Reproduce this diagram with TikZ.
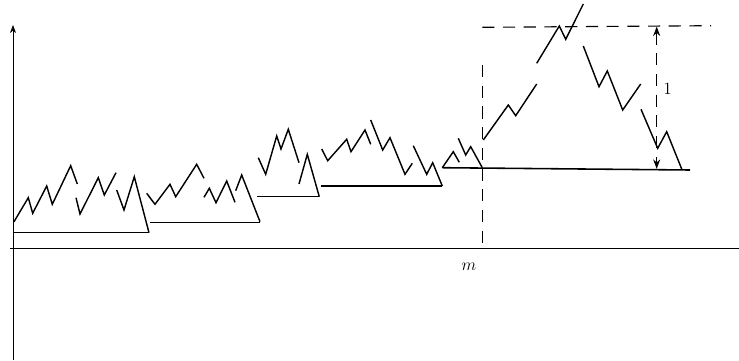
\documentclass[tikz,border=0pt]{standalone}
\usetikzlibrary{arrows.meta}
\begin{document}
\begin{tikzpicture}[
    x=0.7pt, y=-0.7pt,
    >=Stealth,
    walk/.style={line width=1pt},
    floor/.style={line width=1.1pt},
    guide/.style={line width=0.8pt, dash pattern=on 8.5pt off 6pt},
    axis/.style={line width=0.6pt},
    tag/.style={font=\large}
]
    \useasboundingbox (0,0) rectangle (739,360);

    % --- AXES ---
    \draw[axis, ->] (13,360) -- (13,25);
    \draw[axis] (10,248) -- (739,248);
    \node[tag] (mlabel) at (469,267) {$m$};

    % --- FIRST EXCURSION ---
    \draw[floor] (14,232.7) -- (149,232.7);
    \draw[walk] (14,221.7) -- (28.3,197.7) -- (32.7,213.3) -- (46.7,186) -- (52.3,204.3) -- (70.7,165.7) -- (77.3,184);
    \draw[walk] (76,197.7) -- (80,214) -- (98.3,177.7) -- (104.3,195) -- (116,172.7);
    \draw[walk] (116.7,190) -- (124,210) -- (134.3,176.7) -- (149,232.7);

    % --- SECOND EXCURSION ---
    \draw[floor] (150,222.3) -- (260,222.3);
    \draw[walk] (146.7,193.3) -- (155,204.3) -- (170,184.3) -- (175.7,196.7) -- (196.7,164.3) -- (204,178.3);
    \draw[walk] (204,197.3) -- (209.3,188.3) -- (216,202.7) -- (226.7,181) -- (235,202.3);
    \draw[walk] (235.7,190.7) -- (241.7,175) -- (260,221.7);

    % --- THIRD EXCURSION ---
    \draw[floor] (257.3,196.7) -- (319.3,196.7);
    \draw[walk] (258.3,157.7) -- (265.7,174.3) -- (276.7,136) -- (281,149) -- (288.3,129.3) -- (299,162.7);
    \draw[walk] (299,184) -- (307.3,154.3) -- (319.3,196.7);

    % --- FOURTH EXCURSION ---
    \draw[floor] (320.7,186) -- (442.3,186);
    \draw[walk] (321.7,149) -- (327.7,160.7) -- (346.7,139.3) -- (351,151.7) -- (365,130) -- (370.7,144.3);
    \draw[walk] (370.7,120) -- (382.7,150) -- (390,137.7) -- (405,174.3) -- (412.3,163.3);
    \draw[walk] (413.3,145.7) -- (426.7,174.3) -- (432.7,162.7) -- (442.3,186);

    % --- LAST EXCURSION (reaching height 1) ---
    \draw[floor] (442.3,167.7) -- (690,170);
    \draw[walk] (442.3,167.7) -- (453.3,151.7) -- (459.3,162.3);
    \draw[walk] (458.3,138.3) -- (465.7,155) -- (470.7,146.7) -- (482.3,167.7);
    \draw[walk] (483.3,140) -- (508.3,105) -- (515.7,115.7) -- (536.7,84);
    \draw[walk] (536.7,63.3) -- (559.3,26) -- (565.7,39.3) -- (583.3,4);
    \draw[walk] (583.3,46) -- (599,86.7) -- (607.3,71) -- (622.7,110) -- (640.7,84);
    \draw[walk] (641,109.3) -- (657.7,148.3) -- (666.7,131.7) -- (681.7,169);

    % --- GUIDES ---
    \coordinate (mtop) at (482.3,65);
    \coordinate (mfoot) at (482.3,248);
    \draw[guide] (mtop) -- (mfoot);
    \coordinate (levelstart) at (482.3,27.3);
    \coordinate (levelend) at (711,25.7);
    \draw[guide] (levelstart) -- (levelend);
    \coordinate (unittop) at (656.7,26.6);
    \coordinate (unitfoot) at (656.7,168.8);
    \draw[guide, <->] (unittop) -- (unitfoot);
    \node[tag] (unit) at (667.5,89) {1};

\end{tikzpicture}
\end{document}
